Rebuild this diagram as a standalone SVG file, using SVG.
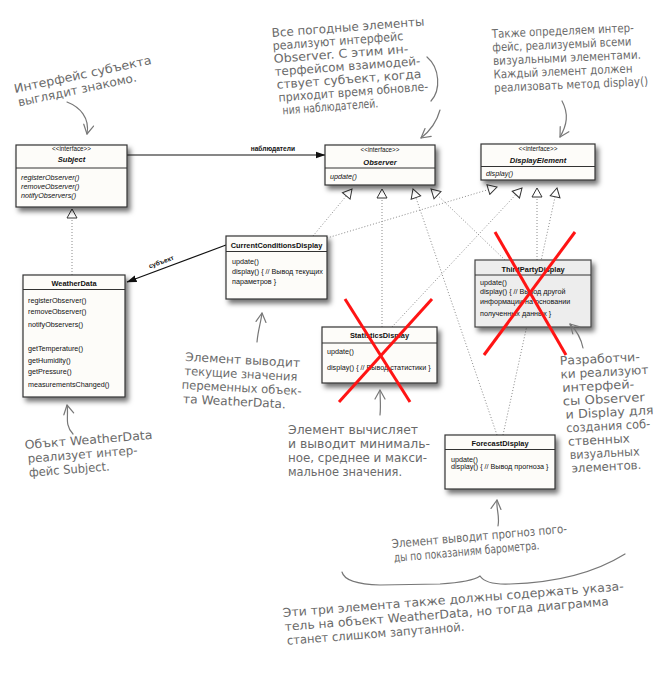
<svg xmlns="http://www.w3.org/2000/svg" width="672" height="673" viewBox="0 0 672 673">
<style>
  .box { fill: #fdfcf9; stroke: #333; stroke-width: 1.2; }
  .box3p { fill: #ededed; stroke: #444; stroke-width: 1.2; }
  .sep { stroke: #333; stroke-width: 1; }
  .t { font-family: "Liberation Sans", Arial, sans-serif; font-size: 7.2px; fill: #111; }
  .st { font-family: "Liberation Sans", Arial, sans-serif; font-size: 6.3px; fill: #111; text-anchor: middle; }
  .name { font-family: "Liberation Sans", Arial, sans-serif; font-size: 7.4px; font-weight: bold; fill: #111; text-anchor: middle; }
  .iname { font-family: "Liberation Sans", Arial, sans-serif; font-size: 7.6px; font-weight: bold; font-style: italic; fill: #111; text-anchor: middle; }
  .it { font-style: italic; }
  .lbl { font-family: "Liberation Sans", Arial, sans-serif; font-size: 6.6px; font-weight: bold; fill: #111; }
  .real { stroke: #8a8a8a; stroke-width: 1; stroke-dasharray: 1 2; fill: none; }
  .assoc { stroke: #111; stroke-width: 1.2; fill: none; }
  .hw { font-family: "DejaVu Sans", "Open Sans", sans-serif; font-size: 12px; fill: #6a6a6a; }
  .pen { stroke: #777; stroke-width: 1.2; fill: none; stroke-linecap: round; }
  .cross { stroke: #ff1414; stroke-width: 3; stroke-linecap: butt; }
</style>
<defs>
  <filter id="shadow" x="-10%" y="-10%" width="130%" height="140%">
    <feDropShadow dx="3" dy="4" stdDeviation="2.4" flood-color="#000" flood-opacity="0.55"/>
  </filter>
  <marker id="solid" markerWidth="10" markerHeight="8" refX="9.5" refY="4" orient="auto" markerUnits="userSpaceOnUse">
    <path d="M0,0.5 L10,4 L0,7.5 z" fill="#111"/>
  </marker>
  <marker id="hollow" markerWidth="12" markerHeight="12" refX="10.5" refY="6" orient="auto" markerUnits="userSpaceOnUse">
    <path d="M1.5,1 L10.5,6 L1.5,11 z" fill="#fff" stroke="#333" stroke-width="1"/>
  </marker>
  <marker id="open" markerWidth="12" markerHeight="12" refX="10" refY="6" orient="auto" markerUnits="userSpaceOnUse">
    <path d="M1,1 L10,6 L1,11" fill="none" stroke="#777" stroke-width="1.2" stroke-linecap="round" stroke-linejoin="round"/>
  </marker>
</defs>

<rect width="672" height="673" fill="#ffffff"/>

<!-- connectors -->
<g id="connectors">
  <!-- realization: implementing classes to Observer -->
  <line class="real" x1="313" y1="236" x2="352" y2="189" marker-end="url(#hollow)"/>
  <line class="real" x1="382" y1="327" x2="382" y2="189" marker-end="url(#hollow)"/>
  <line class="real" x1="497" y1="435" x2="413" y2="189" marker-end="url(#hollow)"/>
  <line class="real" x1="505" y1="260" x2="431" y2="189" marker-end="url(#hollow)"/>
  <!-- realization: implementing classes to DisplayElement -->
  <line class="real" x1="327" y1="238" x2="497" y2="187" marker-end="url(#hollow)"/>
  <line class="real" x1="392" y1="327" x2="522" y2="188" marker-end="url(#hollow)"/>
  <line class="real" x1="537" y1="260" x2="537" y2="188" marker-end="url(#hollow)"/>
  <line class="real" x1="503" y1="435" x2="557" y2="188" marker-end="url(#hollow)"/>
  <!-- WeatherData implements Subject -->
  <line class="real" x1="72" y1="275" x2="72" y2="209" marker-end="url(#hollow)"/>
  <!-- associations -->
  <line class="assoc" x1="127" y1="155" x2="325" y2="155" marker-end="url(#solid)"/>
  <text class="lbl" x="295" y="150.5" text-anchor="end">наблюдатели</text>
  <line class="assoc" x1="226" y1="245" x2="127" y2="282" marker-end="url(#solid)"/>
  <text class="lbl" x="0" y="0" text-anchor="middle" transform="translate(162,264) rotate(-20.5)">субъект</text>
</g>

<!-- Subject -->
<g id="subject">
  <rect class="box" x="16" y="145" width="111" height="62" filter="url(#shadow)"/>
  <line class="sep" x1="16" y1="168" x2="127" y2="168"/>
  <text class="st" x="71.5" y="150.5">&lt;&lt;interface&gt;&gt;</text>
  <text class="iname" x="71.5" y="162">Subject</text>
  <text class="t it" x="21" y="179.5">registerObserver()</text>
  <text class="t it" x="21" y="188.5">removeObserver()</text>
  <text class="t it" x="21" y="198">notifyObservers()</text>
</g>

<!-- Observer -->
<g id="observer">
  <rect class="box" x="325" y="145" width="110" height="40" filter="url(#shadow)"/>
  <line class="sep" x1="325" y1="168" x2="435" y2="168"/>
  <text class="st" x="380" y="152">&lt;&lt;interface&gt;&gt;</text>
  <text class="iname" x="380" y="165">Observer</text>
  <text class="t it" x="330" y="179">update()</text>
</g>

<!-- DisplayElement -->
<g id="display-element">
  <rect class="box" x="481" y="144" width="114" height="36" filter="url(#shadow)"/>
  <line class="sep" x1="481" y1="166.5" x2="595" y2="166.5"/>
  <text class="st" x="538" y="150.5">&lt;&lt;interface&gt;&gt;</text>
  <text class="iname" x="538" y="163">DisplayElement</text>
  <text class="t it" x="486" y="175.5">display()</text>
</g>

<!-- WeatherData -->
<g id="weather-data">
  <rect class="box" x="23" y="275" width="102" height="122" filter="url(#shadow)"/>
  <line class="sep" x1="23" y1="289.5" x2="125" y2="289.5"/>
  <text class="name" x="74" y="285.5" font-weight="normal">WeatherData</text>
  <text class="t" x="28" y="302.5">registerObserver()</text>
  <text class="t" x="28" y="314">removeObserver()</text>
  <text class="t" x="28" y="326.5">notifyObservers()</text>
  <text class="t" x="28" y="351">getTemperature()</text>
  <text class="t" x="28" y="362.5">getHumidity()</text>
  <text class="t" x="28" y="374">getPressure()</text>
  <text class="t" x="28" y="386.5">measurementsChanged()</text>
</g>

<!-- CurrentConditionsDisplay -->
<g id="current-conditions">
  <rect class="box" x="226" y="236" width="101" height="63" filter="url(#shadow)"/>
  <line class="sep" x1="226" y1="251.5" x2="327" y2="251.5"/>
  <text class="name" x="276.5" y="247.5">CurrentConditionsDisplay</text>
  <text class="t" x="232" y="264">update()</text>
  <text class="t" x="232" y="274">display() { // Вывод текущих</text>
  <text class="t" x="232" y="284">параметров }</text>
</g>

<!-- StatisticsDisplay -->
<g id="statistics">
  <rect class="box" x="322" y="327" width="115" height="56" filter="url(#shadow)"/>
  <line class="sep" x1="322" y1="343" x2="437" y2="343"/>
  <text class="name" x="379.5" y="337.5">StatisticsDisplay</text>
  <text class="t" x="327" y="354">update()</text>
  <text class="t" x="327" y="369.5">display() { // Вывод статистики  }</text>
</g>

<!-- ThirdPartyDisplay -->
<g id="third-party">
  <rect class="box3p" x="475" y="260" width="116" height="67" filter="url(#shadow)"/>
  <line class="sep" x1="475" y1="275" x2="591" y2="275"/>
  <text class="name" x="533" y="272">ThirdPartyDisplay</text>
  <text class="t" x="480" y="285">update()</text>
  <text class="t" x="480" y="294">display() { // Вывод другой</text>
  <text class="t" x="480" y="304">информации на основании</text>
  <text class="t" x="480" y="315.5">полученных данных  }</text>
</g>

<!-- ForecastDisplay -->
<g id="forecast">
  <rect class="box" x="445" y="435" width="110" height="54" filter="url(#shadow)"/>
  <line class="sep" x1="445" y1="449.5" x2="555" y2="449.5"/>
  <text class="name" x="500" y="446">ForecastDisplay</text>
  <text class="t" x="451" y="461.5">update()</text>
  <text class="t" x="451" y="469">display() { // Вывод прогноза }</text>
</g>

<!-- crossed-out classes -->
<g id="crossouts">
  <line class="cross" x1="345" y1="299" x2="410" y2="402"/>
  <line class="cross" x1="432" y1="299" x2="339" y2="402"/>
  <line class="cross" x1="495" y1="232" x2="566" y2="355"/>
  <line class="cross" x1="575" y1="232" x2="484" y2="355"/>
</g>

<!-- handwritten notes -->
<g id="note-subject">
  <g transform="rotate(-12 15 93)">
    <text class="hw" x="15" y="93" textLength="140" lengthAdjust="spacingAndGlyphs">Интерфейс субъекта</text>
    <text class="hw" x="16" y="107" textLength="121" lengthAdjust="spacingAndGlyphs">выглядит знакомо.</text>
  </g>
  <path class="pen" d="M67,102 C80,107 90,118 87,134" marker-end="url(#open)"/>
</g>

<g id="note-observer">
  <g transform="rotate(-4.3 272 37)">
    <text class="hw" x="272" y="37" textLength="153" lengthAdjust="spacingAndGlyphs">Все погодные элементы</text>
    <text class="hw" x="272" y="50" textLength="131" lengthAdjust="spacingAndGlyphs">реализуют интерфейс</text>
    <text class="hw" x="272" y="63" textLength="135" lengthAdjust="spacingAndGlyphs">Observer. С этим ин-</text>
    <text class="hw" x="272" y="76" textLength="146" lengthAdjust="spacingAndGlyphs">терфейсом взаимодей-</text>
    <text class="hw" x="273" y="89" textLength="145" lengthAdjust="spacingAndGlyphs">ствует субъект, когда</text>
    <text class="hw" x="274" y="102" textLength="150" lengthAdjust="spacingAndGlyphs">приходит время обновле-</text>
    <text class="hw" x="277" y="115" textLength="96" lengthAdjust="spacingAndGlyphs">ния наблюдателей.</text>
  </g>
  <path class="pen" d="M427,57 C440,68 441,90 431,101"/>
  <path class="pen" d="M440,110 C437,121 430,131 421,138" marker-end="url(#open)"/>
</g>

<g id="note-display">
  <g transform="rotate(-2.5 492 38)">
    <text class="hw" x="492" y="38" textLength="142" lengthAdjust="spacingAndGlyphs">Также определяем интер-</text>
    <text class="hw" x="492" y="51.5" textLength="139" lengthAdjust="spacingAndGlyphs">фейс, реализуемый всеми</text>
    <text class="hw" x="492" y="65" textLength="148" lengthAdjust="spacingAndGlyphs">визуальными элементами.</text>
    <text class="hw" x="492" y="78.5" textLength="139" lengthAdjust="spacingAndGlyphs">Каждый элемент должен</text>
    <text class="hw" x="492" y="92" textLength="154" lengthAdjust="spacingAndGlyphs">реализовать метод display()</text>
  </g>
  <path class="pen" d="M562,101 C569,114 567,125 560,137" marker-end="url(#open)"/>
</g>

<g id="note-weatherdata">
  <g transform="rotate(-4.5 25 449)">
    <text class="hw" x="25" y="449" textLength="128" lengthAdjust="spacingAndGlyphs">Объкт WeatherData</text>
    <text class="hw" x="27" y="463" textLength="110" lengthAdjust="spacingAndGlyphs">реализует интер-</text>
    <text class="hw" x="27" y="477" textLength="81" lengthAdjust="spacingAndGlyphs">фейс Subject.</text>
  </g>
  <path class="pen" d="M73,434 C64,425 69,415 67,405" marker-end="url(#open)"/>
</g>

<g id="note-current">
  <g transform="rotate(3 185 361)">
    <text class="hw" x="185" y="361" textLength="115" lengthAdjust="spacingAndGlyphs">Элемент выводит</text>
    <text class="hw" x="185" y="375" textLength="113" lengthAdjust="spacingAndGlyphs">текущие значения</text>
    <text class="hw" x="183" y="389" textLength="120" lengthAdjust="spacingAndGlyphs">переменных объек-</text>
    <text class="hw" x="185" y="403" textLength="103" lengthAdjust="spacingAndGlyphs">та WeatherData.</text>
  </g>
  <path class="pen" d="M257,342 C258,330 261,322 262,313" marker-end="url(#open)"/>
</g>

<g id="note-statistics">
  <text class="hw" x="288" y="434" textLength="130" lengthAdjust="spacingAndGlyphs">Элемент вычисляет</text>
  <text class="hw" x="288" y="448" textLength="142" lengthAdjust="spacingAndGlyphs">и выводит минималь-</text>
  <text class="hw" x="288" y="462" textLength="139" lengthAdjust="spacingAndGlyphs">ное, среднее и макси-</text>
  <text class="hw" x="288" y="476" textLength="114" lengthAdjust="spacingAndGlyphs">мальное значения.</text>
  <path class="pen" d="M380,415 C381,405 380,398 380,390" marker-end="url(#open)"/>
</g>

<g id="note-thirdparty">
  <g transform="rotate(-3 560 365)">
    <text class="hw" x="560" y="365" textLength="80" lengthAdjust="spacingAndGlyphs">Разработчи-</text>
    <text class="hw" x="560" y="378.5" textLength="88" lengthAdjust="spacingAndGlyphs">ки реализуют</text>
    <text class="hw" x="561" y="392" textLength="72" lengthAdjust="spacingAndGlyphs">интерфей-</text>
    <text class="hw" x="561" y="405.5" textLength="82" lengthAdjust="spacingAndGlyphs">сы Observer</text>
    <text class="hw" x="563" y="419" textLength="88" lengthAdjust="spacingAndGlyphs">и Display для</text>
    <text class="hw" x="563" y="432.5" textLength="84" lengthAdjust="spacingAndGlyphs">создания соб-</text>
    <text class="hw" x="564" y="446" textLength="62" lengthAdjust="spacingAndGlyphs">ственных</text>
    <text class="hw" x="565" y="459.5" textLength="70" lengthAdjust="spacingAndGlyphs">визуальных</text>
    <text class="hw" x="566" y="473" textLength="70" lengthAdjust="spacingAndGlyphs">элементов.</text>
  </g>
  <path class="pen" d="M583,348 C581,338 576,330 570,324" marker-end="url(#open)"/>
</g>

<g id="note-forecast">
  <g transform="rotate(-5 392 548)">
    <text class="hw" x="392" y="548" textLength="176" lengthAdjust="spacingAndGlyphs">Элемент выводит прогноз пого-</text>
    <text class="hw" x="393" y="562" textLength="146" lengthAdjust="spacingAndGlyphs">ды по показаниям барометра.</text>
  </g>
  <path class="pen" d="M498,526 C500,516 496,509 497,500" marker-end="url(#open)"/>
</g>

<g id="note-bottom">
  <path class="pen" d="M342,572 Q345,584 380,585 L440,584 Q472,582 480,576 Q486,585 510,584 Q580,582 625,554"/>
  <g transform="rotate(-4.5 283 617)">
    <text class="hw" x="283" y="617" textLength="342" lengthAdjust="spacingAndGlyphs">Эти три элемента также должны содержать указа-</text>
    <text class="hw" x="284" y="631" textLength="325" lengthAdjust="spacingAndGlyphs">тель на объект WeatherData, но тогда диаграмма</text>
    <text class="hw" x="285" y="645" textLength="178" lengthAdjust="spacingAndGlyphs">станет слишком запутанной.</text>
  </g>
</g>
</svg>
